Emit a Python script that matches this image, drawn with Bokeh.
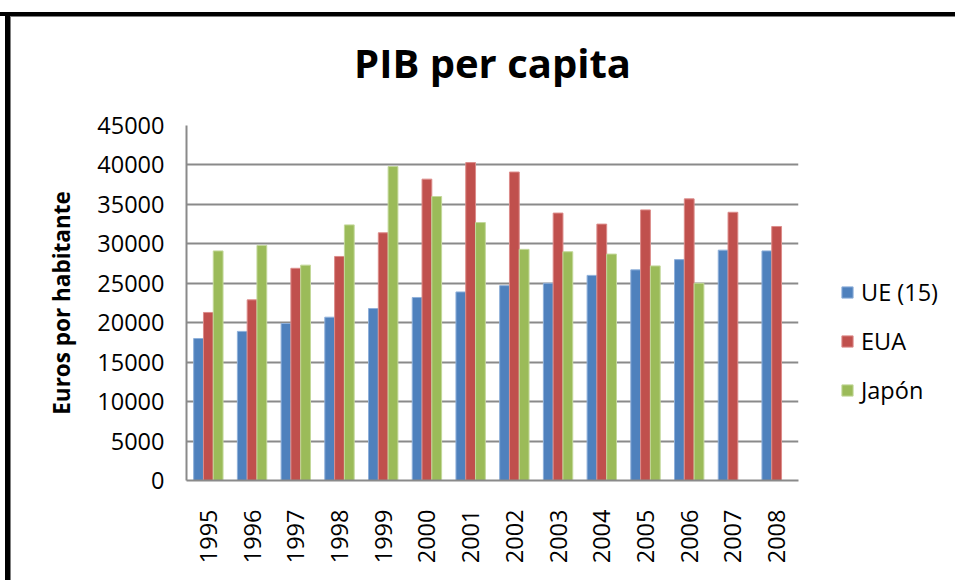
import math
from bokeh.plotting import figure
from bokeh.models import ColumnDataSource, FactorRange, Legend, LegendItem
from bokeh.transform import dodge
from bokeh.embed import file_html
from bokeh.resources import INLINE

years = ["1995", "1996", "1997", "1998", "1999", "2000", "2001",
         "2002", "2003", "2004", "2005", "2006", "2007", "2008"]
ue15 = [18000, 18900, 19900, 20700, 21800, 23200, 23900,
        24700, 25000, 26000, 26700, 28000, 29200, 29100]
eua = [21300, 22900, 26900, 28400, 31400, 38200, 40300,
       39100, 33900, 32500, 34300, 35700, 34000, 32200]
japon = [29100, 29800, 27300, 32400, 39800, 36000, 32700,
         29300, 29000, 28700, 27200, 25000, float("nan"), float("nan")]
series_names = ["UE (15)", "EUA", "Japón"]
y_ticks = [0, 5000, 10000, 15000, 20000, 25000, 30000, 35000, 40000, 45000]

colors = ["#4F81BD", "#C0504D", "#9BBB59"]
edges = ["#8FB0DA", "#DC8C8A", "#C3D89A"]
FONT = "Open Sans"

source = ColumnDataSource(dict(years=years, ue15=ue15, eua=eua, japon=japon))

frame_bg = ("linear-gradient(#000,#000) 0 12px / 100% 4px no-repeat, "
            "linear-gradient(#000,#000) 5px 12px / 5px 100% no-repeat, "
            "linear-gradient(#808080,#808080) 10px 16px / 100% 1px no-repeat, "
            "linear-gradient(#808080,#808080) 10px 16px / 1px 100% no-repeat, "
            "#ffffff")

p = figure(
    x_range=FactorRange(*years, range_padding=0),
    y_range=(0, 45000),
    frame_width=612, frame_height=355,
    output_backend="svg", toolbar_location=None,
    min_border_left=186, min_border_right=153,
    min_border_top=125, min_border_bottom=100,
    styles={"background": frame_bg},
)
p.border_fill_color = None
p.background_fill_color = None

bw = 0.224
renderers = []
for key, off, c, e in zip(["ue15", "eua", "japon"], [-bw, 0, bw], colors, edges):
    r = p.vbar(x=dodge("years", off, range=p.x_range), top=key, width=bw,
               source=source, fill_color=c, line_color=e, line_width=1)
    renderers.append(r)

legend = Legend(
    items=[LegendItem(label=n, renderers=[r]) for n, r in zip(series_names, renderers)],
    location=(42, 74), orientation="vertical",
    glyph_width=14, glyph_height=14, label_standoff=7,
    label_height=20, spacing=17, padding=0, margin=0,
    border_line_color=None, background_fill_alpha=0,
    label_text_font=FONT, label_text_font_size="23.5px", label_text_color="#000000",
)
p.add_layout(legend, "right")

p.title.text = "PIB per capita"
p.title.text_font = FONT
p.title.text_font_size = "40px"
p.title.text_font_style = "bold"
p.title.text_color = "#000000"
p.title.vertical_align = "top"
p.title.align = "center"
p.title.standoff = 67

p.xgrid.grid_line_color = None
p.ygrid.grid_line_color = "#8A8A8A"
p.ygrid.grid_line_width = 2
p.yaxis.ticker = y_ticks
p.outline_line_color = None

p.yaxis.axis_label = "Euros por habitante"
p.yaxis.axis_label_text_font = FONT
p.yaxis.axis_label_text_font_size = "22.5px"
p.yaxis.axis_label_text_font_style = "bold"
p.yaxis.axis_label_text_color = "#000000"
p.yaxis.axis_label_standoff = 17
p.yaxis.major_label_text_font = FONT
p.yaxis.major_label_text_font_size = "23.5px"
p.yaxis.major_label_text_color = "#000000"
p.yaxis.major_tick_line_color = None
p.yaxis.minor_tick_line_color = None
p.yaxis.axis_line_color = "#8A8A8A"
p.yaxis.axis_line_width = 2
p.yaxis.major_label_standoff = 16

p.xaxis.major_label_orientation = math.pi / 2
p.xaxis.major_label_text_font = FONT
p.xaxis.major_label_text_font_size = "23.5px"
p.xaxis.major_label_text_color = "#000000"
p.xaxis.major_tick_line_color = None
p.xaxis.axis_line_color = "#8A8A8A"
p.xaxis.axis_line_width = 2
p.xaxis.major_label_standoff = 23

open("out.html", "w").write(file_html(p, INLINE))
